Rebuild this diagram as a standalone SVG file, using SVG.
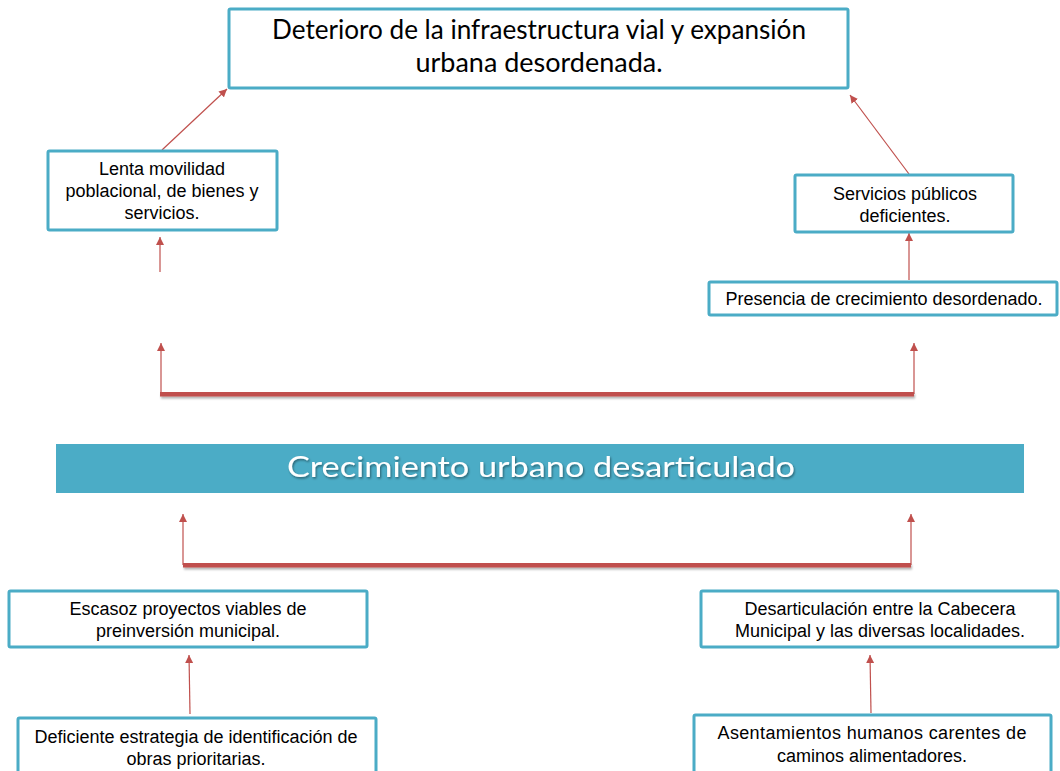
<svg xmlns="http://www.w3.org/2000/svg" width="1060" height="771" viewBox="0 0 1060 771">
<style>
.box{fill:#fff;stroke:#4BACC6;stroke-width:3}
.t{font-family:"Liberation Sans",Arial,sans-serif;font-size:18px;fill:#000;text-anchor:middle}
.big{font-family:Lato,"Open Sans",sans-serif;font-size:26px;fill:#000;text-anchor:middle}
.mid{font-family:Lato,"Open Sans",sans-serif;font-size:28px;fill:#fff;text-anchor:middle}
.c{stroke:#C0504D;stroke-width:1.2;fill:none}
.bar{fill:#C0504D}
</style>
<defs>
<marker id="ah" viewBox="0 0 10 10" refX="10" refY="5" markerWidth="8" markerHeight="8" markerUnits="userSpaceOnUse" orient="auto">
<path d="M0,0 L10,5 L0,10 z" fill="#C0504D"/>
</marker>
<filter id="sh" filterUnits="userSpaceOnUse" x="0" y="0" width="1060" height="771">
<feDropShadow dx="1" dy="2" stdDeviation="1.2" flood-color="#000" flood-opacity="0.3"/>
</filter>
<filter id="tsh" x="-5%" y="-20%" width="110%" height="150%">
<feDropShadow dx="1" dy="1.5" stdDeviation="1" flood-color="#000" flood-opacity="0.45"/>
</filter>
</defs>

<g id="connectors">
<line class="c" x1="162" y1="150" x2="227" y2="89" marker-end="url(#ah)"/>
<line class="c" x1="160" y1="272" x2="160" y2="237" marker-end="url(#ah)"/>
<line class="c" x1="909" y1="174" x2="850" y2="95" marker-end="url(#ah)"/>
<line class="c" x1="909" y1="280" x2="909" y2="233" marker-end="url(#ah)"/>
<line class="c" x1="161" y1="394" x2="161" y2="343" marker-end="url(#ah)"/>
<line class="c" x1="914" y1="394" x2="914" y2="343" marker-end="url(#ah)"/>
<rect class="bar" x="160" y="392" width="754" height="4.5" filter="url(#sh)"/>
<line class="c" x1="183" y1="565" x2="183" y2="514" marker-end="url(#ah)"/>
<line class="c" x1="911" y1="565" x2="911" y2="514" marker-end="url(#ah)"/>
<rect class="bar" x="183" y="563" width="728" height="4.5" filter="url(#sh)"/>
<line class="c" x1="190" y1="714" x2="189" y2="655" marker-end="url(#ah)"/>
<line class="c" x1="871" y1="713" x2="870" y2="655" marker-end="url(#ah)"/>
</g>

<g id="deterioro">
<rect class="box" x="229" y="9" width="619" height="79" rx="1.5"/>
<text class="big" x="539" y="39" textLength="534" lengthAdjust="spacingAndGlyphs">Deterioro de la infraestructura vial y expansión</text>
<text class="big" x="539" y="72" textLength="247" lengthAdjust="spacingAndGlyphs">urbana desordenada.</text>
</g>

<g id="lenta">
<rect class="box" x="48" y="151" width="229" height="79" rx="1.5"/>
<text class="t" x="162" y="175">Lenta movilidad</text>
<text class="t" x="162" y="197">poblacional, de bienes y</text>
<text class="t" x="162" y="219">servicios.</text>
</g>

<g id="servicios">
<rect class="box" x="795" y="175" width="218" height="57" rx="1.5"/>
<text class="t" x="905" y="200">Servicios públicos</text>
<text class="t" x="905" y="222">deficientes.</text>
</g>

<g id="presencia">
<rect class="box" x="709" y="282" width="348" height="33" rx="1.5"/>
<text class="t" x="884" y="305">Presencia de crecimiento desordenado.</text>
</g>

<g id="crecimiento">
<rect x="56" y="444" width="968" height="49" fill="#4BACC6"/>
<text class="mid" x="541" y="477" textLength="508" lengthAdjust="spacingAndGlyphs" filter="url(#tsh)">Crecimiento urbano desarticulado</text>
</g>

<g id="escasoz">
<rect class="box" x="9" y="591" width="358" height="56" rx="1.5"/>
<text class="t" x="188" y="615">Escasoz proyectos viables de</text>
<text class="t" x="188" y="637">preinversión municipal.</text>
</g>

<g id="deficiente">
<rect class="box" x="18" y="718" width="358" height="60" rx="1.5"/>
<text class="t" x="196" y="743">Deficiente estrategia de identificación de</text>
<text class="t" x="196" y="765">obras prioritarias.</text>
</g>

<g id="desarticulacion">
<rect class="box" x="701" y="591" width="357" height="56" rx="1.5"/>
<text class="t" x="880" y="615">Desarticulación entre la Cabecera</text>
<text class="t" x="880" y="637">Municipal y las diversas localidades.</text>
</g>

<g id="asentamientos">
<rect class="box" x="694" y="715" width="357" height="60" rx="1.5"/>
<text class="t" x="872" y="739" textLength="309" lengthAdjust="spacing">Asentamientos humanos carentes de</text>
<text class="t" x="872" y="762">caminos alimentadores.</text>
</g>
</svg>
